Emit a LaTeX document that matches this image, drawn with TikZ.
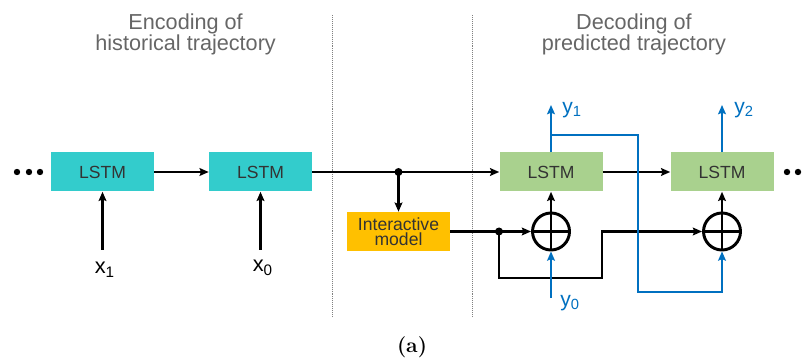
\documentclass[tikz,border=0pt]{standalone}
\usepackage{fontspec}
\setsansfont{Liberation Sans}
\usetikzlibrary{arrows.meta}
\definecolor{encteal}{HTML}{33CCCC}
\definecolor{decgreen}{HTML}{A9D18E}
\definecolor{intorange}{HTML}{FFC000}
\definecolor{outblue}{HTML}{0070C0}
\begin{document}
\begin{tikzpicture}
    [lstm/.style={rectangle,minimum width=2.575cm,minimum height=0.975cm,inner sep=0pt,
        font=\sffamily\fontsize{12.5}{14}\selectfont,text=black!80},
    enc/.style={lstm,fill=encteal},
    dec/.style={lstm,fill=decgreen},
    inter/.style={lstm,fill=intorange,align=center,font=\sffamily\fontsize{12.5}{11}\selectfont},
    adder/.style={circle,draw,line width=2.1pt,minimum size=0.925cm,inner sep=0pt,
        path picture={\draw[line width=2.1pt] (path picture bounding box.north) -- (path picture bounding box.south)
            (path picture bounding box.west) -- (path picture bounding box.east);}},
    title/.style={align=center,text=black!60,font=\sffamily\fontsize{15.4}{13.5}\selectfont},
    inlabel/.style={font=\sffamily\fontsize{15.5}{17}\selectfont,inner sep=1pt},
    outlabel/.style={inlabel,text=outblue,font=\sffamily\fontsize{15}{17}\selectfont},
    flow/.style={-{Stealth[length=6.5pt,width=5.5pt,inset=1pt]},line width=1.8pt},
    fb/.style={flow,color=outblue}]

    \useasboundingbox (0,0) rectangle (20.075,8.95);
    %\draw[help lines] (0,0) grid (20,9);

    % section separators and headings
    \draw[densely dotted,black!50] (8.3,8.575) -- (8.3,1.025);
    \draw[densely dotted,black!50] (11.8,8.575) -- (11.8,1.025);
    \node[title] (enchead) at (4.64,8.09) {Encoding of\\historical trajectory};
    \node[title] (dechead) at (15.85,8.09) {Decoding of\\predicted trajectory};

    \node[enc] (enc1) at (2.5625,4.65) {LSTM};
    \node[enc] (enc2) at (6.5125,4.65) {LSTM};
    \node[dec] (dec1) at (13.775,4.65) {LSTM};
    \node[dec] (dec2) at (18.05,4.65) {LSTM};
    \node[inter] (model) at (9.9625,3.1625) {Interactive\\model};
    \node[adder] (add1) at (13.775,3.1625) {};
    \node[adder] (add2) at (18.05,3.1625) {};

    \foreach \x in {0.425,0.725,1.0,19.675,19.95,20.225}
        \fill (\x,4.65) circle (0.08);

    % encoder inputs
    \coordinate (x1in) at (2.5625,2.7);
    \coordinate (x0in) at (6.5125,2.7);
    \node[inlabel] (x1) at (2.62,2.2) {x\textsubscript{1}};
    \node[inlabel] (x0) at (6.57,2.25) {x\textsubscript{0}};
    \draw[flow] (x1in) -- (enc1);
    \draw[flow] (x0in) -- (enc2);

    % hidden state
    \coordinate (j1) at (9.9625,4.65);
    \coordinate (j2) at (12.475,3.1625);
    \coordinate (turn) at (15.05,2.0);
    \draw[flow] (enc1) -- (enc2);
    \draw[flow] (enc2) -- (dec1);
    \draw[flow] (dec1) -- (dec2);
    \draw[flow] (j1) -- (model);
    \fill (j1) circle (0.1);
    \draw[flow,-] (model) -- (j2);
    \draw[flow] (j2) -- (add1);
    \draw[flow] (j2) |- (turn) |- (add2);
    \fill (j2) circle (0.1);
    \draw[flow] (add1) -- (dec1);
    \draw[flow] (add2) -- (dec2);

    % predicted positions
    \coordinate (y0in) at (13.775,1.5);
    \coordinate (y1out) at (13.775,6.325);
    \coordinate (y2out) at (18.05,6.325);
    \coordinate (split) at (13.775,5.575);
    \coordinate (back) at (15.95,1.65);
    \node[outlabel] (y0) at (14.25,1.38) {y\textsubscript{0}};
    \node[outlabel] (y1) at (14.3,6.2) {y\textsubscript{1}};
    \node[outlabel] (y2) at (18.6,6.2) {y\textsubscript{2}};
    \draw[fb] (y0in) -- (add1);
    \draw[fb] (dec1) -- (y1out);
    \draw[fb] (dec2) -- (y2out);
    \draw[fb] (split) -| (back) -| (add2);

    \node[font=\bfseries\fontsize{15}{17}\selectfont] (cap) at (10.3,0.27) {(a)};
\end{tikzpicture}
\end{document}
